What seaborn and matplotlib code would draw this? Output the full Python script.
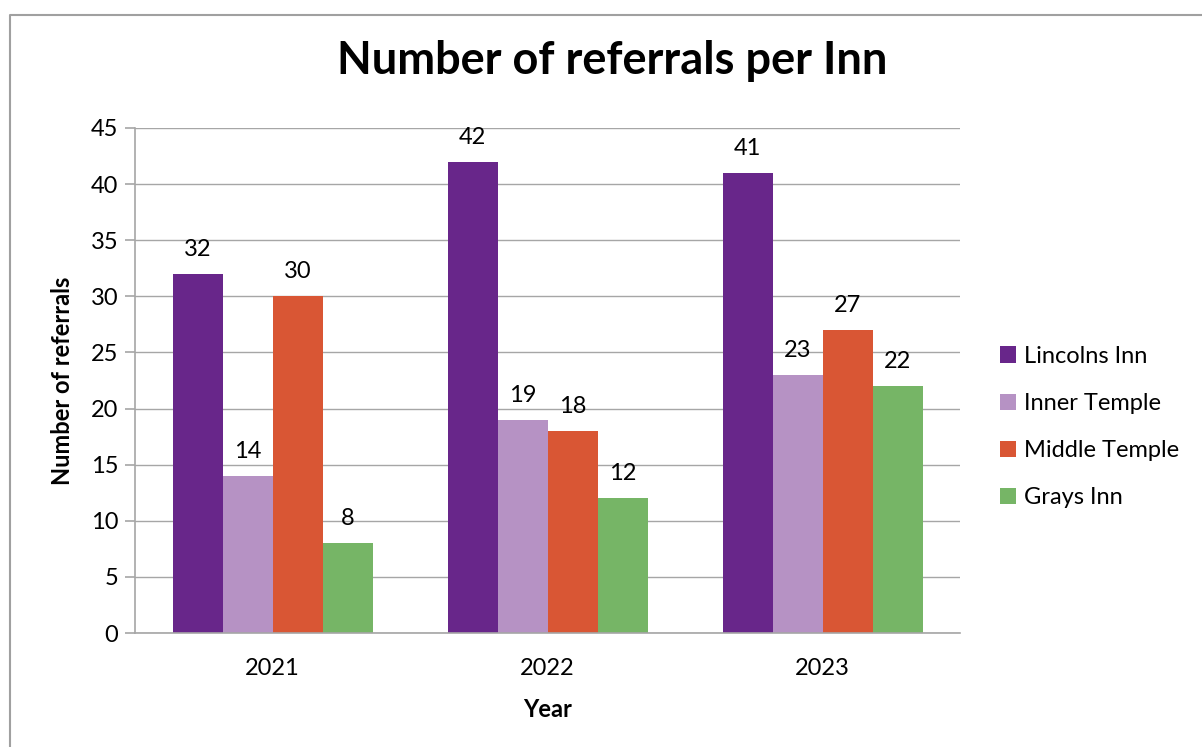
import matplotlib
matplotlib.use("Agg")
import matplotlib.pyplot as plt
import seaborn as sns
import pandas as pd
from matplotlib.lines import Line2D
from matplotlib.patches import Patch

years = ["2021", "2022", "2023"]
inns = ["Lincolns Inn", "Inner Temple", "Middle Temple", "Grays Inn"]
lincolns = [32, 42, 41]
inner = [14, 19, 23]
middle = [30, 18, 27]
grays = [8, 12, 22]
colors = ["#68268A", "#B692C4", "#D95634", "#76B566"]

rows = []
for name, vals in zip(inns, [lincolns, inner, middle, grays]):
    for y, v in zip(years, vals):
        rows.append({"Year": y, "Inn": name, "Value": v})
df = pd.DataFrame(rows)

sns.set_theme(style="white")
plt.rcParams['font.family'] = ['Lato', 'DejaVu Sans']
plt.rcParams['text.color'] = 'black'
plt.rcParams['axes.labelcolor'] = 'black'
plt.rcParams['xtick.labelcolor'] = 'black'
plt.rcParams['ytick.labelcolor'] = 'black'

fig = plt.figure(figsize=(12.02, 7.47), dpi=100)
ax = fig.add_axes([135/1202, 1-633/747, (960-135)/1202, (633-128)/747])

sns.barplot(data=df, x="Year", y="Value", hue="Inn", hue_order=inns,
            order=years, palette=colors, width=200/275, gap=0,
            saturation=1, ax=ax, legend=False, linewidth=0, edgecolor="none")

ax.set_ylim(0, 45)
ax.set_xlim(-0.5, 2.5)
ax.set_yticks(range(0, 46, 5))
ax.yaxis.grid(True, color="#A6A6A6", linewidth=1)
ax.set_axisbelow(True)
for s in ["top", "right"]:
    ax.spines[s].set_visible(False)
for s in ["left", "bottom"]:
    ax.spines[s].set_color("#A6A6A6")
    ax.spines[s].set_linewidth(1.2)

ax.set_xticks([0, 1, 2])
ax.set_xticklabels(years, fontsize=17)
ax.tick_params(axis="x", length=0, pad=18, labelcolor="black")
ax.set_xticks([-0.5, 0.5, 1.5, 2.5], minor=True)
ax.tick_params(axis="x", which="minor", length=8, color="#A6A6A6", width=1.2, direction="out")
ax.tick_params(axis="y", length=7, color="#A6A6A6", width=1.2, labelsize=17, pad=5,
               left=True, labelcolor="black")

for cont in ax.containers:
    ax.bar_label(cont, fmt="%g", fontsize=17, padding=10, color="black")

ax.set_xlabel("Year", fontsize=17, fontweight="bold", labelpad=14, color="black")
ax.set_ylabel("Number of referrals", fontsize=17, fontweight="bold", labelpad=12, color="black")

fig.suptitle("Number of referrals per Inn", fontsize=32.5, fontweight="bold",
             x=612/1202, y=1-40/747, va="top", color="black")

handles = [Patch(facecolor=c, edgecolor="none") for c in colors]
fig.legend(handles, inns, loc="center left", bbox_to_anchor=(1000/1202, 1-427/747),
           frameon=False, fontsize=17, handlelength=0.68, handleheight=0.68,
           handletextpad=0.35, labelspacing=1.11, labelcolor="black",
           borderpad=0, borderaxespad=0)

# outer frame
fig.add_artist(Line2D([10/1202, 10/1202, 1.0], [0, 1-15/747, 1-15/747],
                      transform=fig.transFigure, color="#A0A0A0", linewidth=1.5))

fig.savefig("out.png", dpi=100)
